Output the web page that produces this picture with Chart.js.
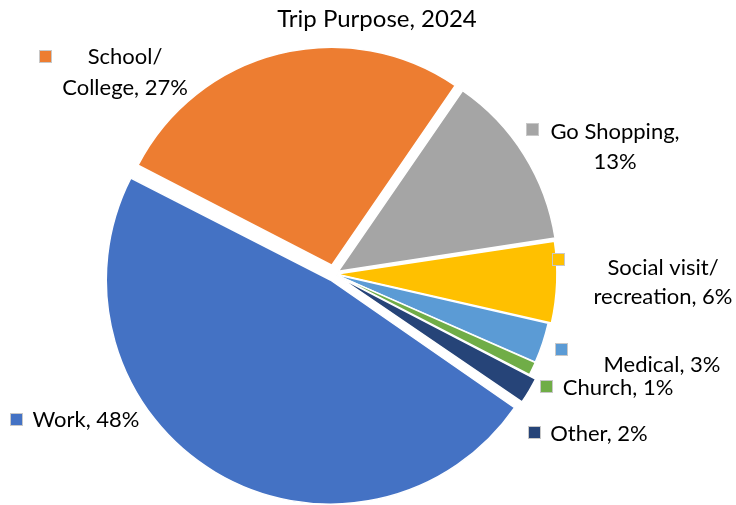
<!DOCTYPE html>
<html>
<head>
<meta charset="utf-8">
<script src="https://cdn.jsdelivr.net/npm/chart.js@4.4.1/dist/chart.umd.min.js"></script>
<style>
  html, body { margin: 0; padding: 0; background: #fff; }
  #wrap { width: 736px; height: 505px; }
</style>
</head>
<body>
<div id="wrap"><canvas id="grafico"></canvas></div>
<script>
// datos del grafico
const titulo = 'Trip Purpose, 2024';
const categorias = ['Work', 'School/College', 'Go Shopping', 'Social visit/recreation', 'Medical', 'Church', 'Other'];
const porcentajes = [48, 27, 13, 6, 3, 1, 2];
const colores = ['#4472C4', '#ED7D31', '#A5A5A5', '#FFC000', '#5B9BD5', '#70AD47', '#264478'];
// separacion de cada porcion en px (Chart.js solo desplaza offset/4)
const separacion = [7, 9, 5, 3, 1, 1, 5];

// donde va cada etiqueta: cuadrito (kx, ky) y texto centrado en (tx, ty)
const etiquetas = [
    { kx: 10,  ky: 413, tx: 86,  ty: 420, corte: false },
    { kx: 39,  ky: 50,  tx: 125, ty: 57,  corte: true, lh: 31 },
    { kx: 526, ky: 123, tx: 615, ty: 132, corte: true, lh: 30 },
    { kx: 552, ky: 253, tx: 663, ty: 268, corte: true, lh: 29 },
    { kx: 555, ky: 343, tx: 662, ty: 365, corte: false },
    { kx: 540, ky: 380, tx: 618, ty: 388, corte: false },
    { kx: 528, ky: 426, tx: 599, ty: 434, corte: false }
];

function lineasEtiqueta(i) {
    const texto = categorias[i] + ', ' + porcentajes[i] + '%';
    if (!etiquetas[i].corte) return [texto];
    const barra = texto.indexOf('/');
    const pos = barra >= 0 ? barra + 1 : texto.indexOf(',') + 1;
    return [texto.slice(0, pos), texto.slice(pos).trim()];
}

const pluginEtiquetas = {
    id: 'etiquetas',
    afterDraw(chart) {
        const ctx = chart.ctx;
        ctx.save();
        ctx.fillStyle = '#000';
        ctx.textAlign = 'center';
        ctx.textBaseline = 'middle';
        ctx.font = '24px Lato';
        ctx.fillText(titulo, 377, 19);

        ctx.font = '22px Lato';
        etiquetas.forEach((e, i) => {
            // cuadrito con el color de la porcion
            ctx.fillStyle = colores[i];
            ctx.fillRect(e.kx, e.ky, 13, 13);
            ctx.strokeStyle = '#c8c8c8';
            ctx.lineWidth = 1;
            ctx.strokeRect(e.kx + 0.5, e.ky + 0.5, 12, 12);
            ctx.fillStyle = '#000';
            lineasEtiqueta(i).forEach((l, j) => {
                ctx.fillText(l, e.tx, e.ty + j * (e.lh || 30));
            });
        });
        ctx.restore();
    }
};

new Chart(document.getElementById('grafico'), {
    type: 'pie',
    data: {
        labels: categorias,
        datasets: [{
            data: porcentajes,
            backgroundColor: colores,
            borderColor: '#fff',
            borderWidth: 1.5,
            radius: 218,
            offset: separacion.map(s => s * 4)
        }]
    },
    options: {
        responsive: true,
        maintainAspectRatio: false,
        animation: false,
        rotation: 124.5,
        // area centrada en (334, 274)
        layout: { padding: { top: 44, bottom: 1, left: 100, right: 168 } },
        plugins: {
            legend: { display: false },
            tooltip: { enabled: false }
        }
    },
    plugins: [pluginEtiquetas]
});
</script>
</body>
</html>
